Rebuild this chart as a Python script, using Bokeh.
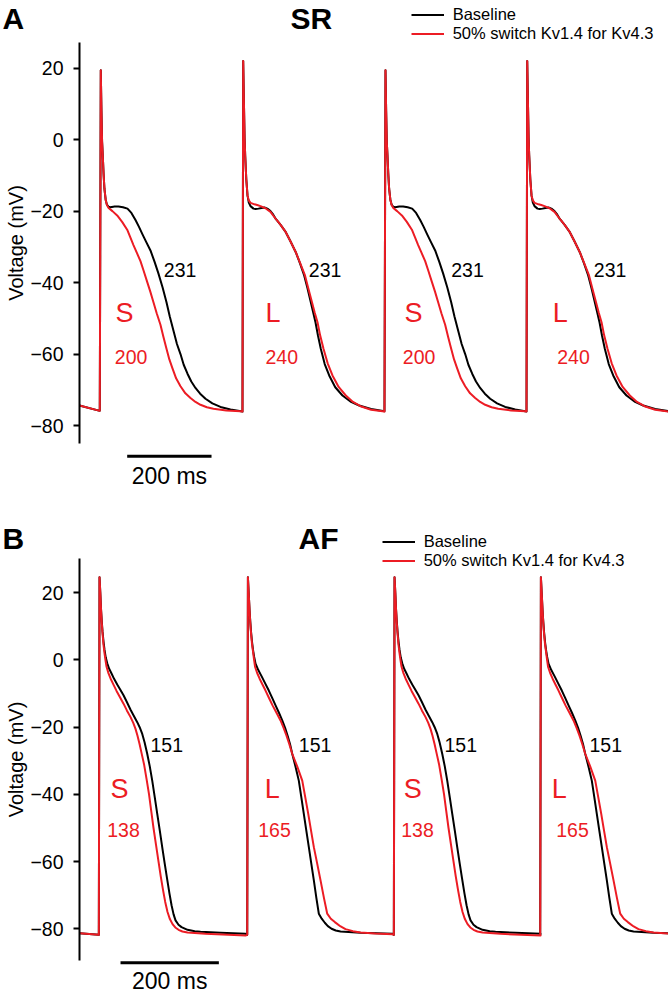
from bokeh.plotting import figure
from bokeh.models import Range1d, FixedTicker, Legend, LegendItem
from bokeh.layouts import column
from bokeh.embed import file_html
from bokeh.resources import INLINE
from bokeh.core.properties import value

FONT = "Liberation Sans"
BLACK = "#000000"
RED = "#ec1c24"

# ---------------- data ----------------
y_ticks = [-80, -60, -40, -20, 0, 20]
y_tick_labels = ["\u221280", "\u221260", "\u221240", "\u221220", "0", "20"]
legend_labels = ["Baseline", "50% switch Kv1.4 for Kv4.3"]
scale_bar_ms = 200

# Panel A (SR): beat onsets (ms) and beat types
sr_onsets = [48.1, 386.5, 723.2, 1060.0]
sr_kinds = ["S", "L", "S", "L"]
sr_pre_t = [0.0]
sr_pre_v = [-74.4]
# S beat, baseline (time after onset in ms, voltage in mV)
sr_S_base_t = [0, 2.4, 4.0, 5.5, 7.1, 9.0, 11.1, 14, 17, 21, 25.4, 35, 44.3, 55, 65.7, 75, 84.7, 93, 101.3, 110, 120.2, 130, 139.2, 149, 158.2, 166, 174.8, 183, 191.4, 199, 208.0, 217, 226.9, 238, 250.7, 267, 286.2, 310]
sr_S_base_v = [-75.9, 19.4, 8, -0.5, -4.4, -9.5, -13.8, -16.8, -18.2, -18.8, -18.9, -18.7, -18.7, -18.9, -19.3, -20.5, -22.5, -24.4, -26.5, -28.6, -31.0, -34.2, -37.5, -41.4, -45.5, -49.5, -53.5, -57.2, -60.0, -63.0, -65.5, -67.7, -69.5, -71.1, -72.5, -73.8, -74.8, -75.5]
# S beat, 50% switch
sr_S_sw_t = [0, 2.4, 4.0, 5.5, 7.1, 9.0, 11.1, 14, 17, 21, 30, 41.3, 53, 65, 72, 79.9, 88, 96.5, 104, 112.4, 120, 127.3, 135, 143.9, 151, 158.2, 165, 172.4, 181, 191.4, 203, 215.1, 227, 238.8, 254, 269.6, 300, 333.6]
sr_S_sw_v = [-75.9, 19.4, 8, -0.5, -4.4, -9.5, -13.8, -16.9, -18.3, -19.1, -20.0, -21.2, -23.0, -25.2, -27.2, -29.5, -31.7, -34.0, -36.7, -39.8, -42.6, -45.5, -48.6, -51.8, -55.2, -58.5, -61.5, -64.0, -66.8, -69.0, -71.0, -72.3, -73.4, -74.2, -74.9, -75.3, -75.8, -76.0]
# L beat, baseline
sr_L_base_t = [0, 1.7, 3.5, 5.0, 6.4, 9.0, 11.9, 15, 19, 26.1, 31, 37.9, 45, 52.2, 59, 66.4, 73, 79, 90, 102.7, 114, 126.4, 136, 146.3, 154, 162, 168, 173.1, 179, 185.7, 195, 205.6, 220, 237.1, 256, 276.7, 305, 336.7]
sr_L_base_v = [-76.1, 22.0, 10, 0.5, -4.4, -11.0, -15.6, -17.6, -18.6, -19.3, -19.4, -19.3, -19.1, -19.0, -19.3, -20.0, -21.0, -22.2, -23.8, -25.9, -28.5, -31.5, -34.5, -38.0, -41.5, -45.5, -48.5, -51.1, -54.8, -58.5, -62.8, -66.0, -69.3, -71.6, -73.3, -74.4, -75.4, -76.0]
# L beat, 50% switch
sr_L_sw_t = [0, 1.7, 3.5, 5.0, 6.4, 9.0, 11.9, 15, 19, 28.5, 35, 42.7, 54.5, 66.4, 79, 90, 102.7, 114, 126.4, 137, 148.2, 156, 164.8, 171, 177.9, 184, 192.1, 202, 213.4, 228, 245.0, 262, 279.8, 305, 336.7]
sr_L_sw_v = [-76.1, 22.0, 10, 0.5, -4.4, -11.0, -15.6, -17.0, -17.7, -18.1, -18.3, -18.6, -19.2, -20.2, -22.2, -23.8, -25.9, -28.5, -31.5, -34.6, -38.0, -41.6, -45.5, -48.3, -51.1, -54.7, -58.5, -62.6, -66.0, -69.2, -71.6, -73.4, -74.6, -75.6, -76.1]
sr_apd_base = ["231", "231", "231", "231"]
sr_apd_switch = ["200", "240", "200", "240"]

# Panel B (AF)
af_onsets = [39.3, 341.1, 639.3, 937.0]
af_kinds = ["S", "L", "S", "L"]
af_pre_t = [0.0]
af_pre_v = [-81.3]
af_S_base_t = [0, 1.4, 3, 4.5, 6, 7.5, 9.5, 11.6, 14, 17.1, 21, 25.8, 31, 37.4, 44, 50.2, 57, 64.5, 71, 78.1, 83, 88.3, 93, 98.4, 103.5, 108.6, 113.7, 118.8, 124, 128.9, 134, 138.7, 143.5, 147.9, 152, 156.0, 162, 168.2, 180.4, 195, 206.8, 247.5, 298.4]
af_S_base_v = [-81.8, 24.6, 20, 15, 11.5, 8.5, 5.5, 3.0, 0.8, -1.0, -2.6, -4.0, -5.6, -7.3, -8.9, -10.5, -12.5, -14.8, -16.6, -18.5, -20.0, -22.0, -24.5, -27.9, -31.6, -35.9, -40.8, -45.8, -50.8, -55.7, -60.6, -65.0, -69.4, -73.0, -75.7, -77.5, -78.8, -79.5, -80.3, -80.7, -80.9, -81.2, -81.5]
af_S_sw_t = [0, 1.4, 3, 4.5, 6, 7.5, 9.5, 11.6, 13.5, 15.7, 19.5, 23.8, 30, 36.0, 43, 50.2, 57, 64.5, 70, 74.6, 78.5, 82.8, 87, 91.9, 97, 102.1, 106.6, 111.2, 116.3, 121.4, 126, 130.6, 135, 139.7, 144.5, 149.9, 155.5, 162.1, 170, 180.4, 217.0, 298.4]
af_S_sw_v = [-81.8, 24.6, 20, 15, 11, 8, 4.5, 2.0, 0.0, -2.0, -3.9, -5.5, -7.4, -9.2, -11.1, -13.0, -15.0, -17.0, -18.7, -20.5, -22.5, -25.0, -27.8, -31.0, -35.4, -40.0, -45.0, -50.0, -55.0, -60.0, -64.5, -68.5, -72.0, -75.0, -77.1, -78.6, -79.6, -80.3, -80.8, -81.1, -81.5, -82.0]
af_L_base_t = [0, 1.4, 3, 4.7, 6.2, 7.7, 9.7, 11.8, 14, 16.9, 22.5, 29.1, 36, 43.9, 50.5, 57.6, 64.5, 71.2, 77, 82.0, 87, 91.5, 98, 104.9, 110, 115.1, 120.2, 125.3, 130.4, 135.5, 140.6, 145.6, 151.5, 157.8, 164, 171.5, 180, 189.8, 230.4, 295.5]
af_L_base_v = [-81.8, 24.6, 20, 15, 11.5, 8.5, 5.5, 3.0, 1.0, -1.1, -3.0, -4.8, -6.8, -9.1, -11.2, -13.5, -15.7, -18.0, -20.2, -22.5, -25.0, -27.9, -31.6, -35.9, -40.8, -45.8, -50.8, -55.7, -60.7, -65.6, -70.8, -75.5, -77.0, -78.2, -79.2, -80.0, -80.5, -80.8, -81.2, -81.5]
af_L_sw_t = [0, 1.4, 3, 4.7, 6.2, 7.7, 9.7, 11.8, 13.8, 15.9, 20, 25.0, 31, 37.2, 44.3, 51.5, 59.5, 67.7, 74, 79.9, 85.5, 91.5, 102, 111.9, 118, 124.1, 129.8, 135.5, 142.3, 149.1, 156, 162.7, 170, 178.2, 190, 199.9, 215, 230.4, 260, 295.5]
af_L_sw_v = [-81.8, 24.6, 20, 15, 11, 8, 4.8, 2.5, 0.2, -2.0, -3.8, -5.5, -7.3, -9.1, -11.3, -13.5, -15.7, -18.0, -20.2, -22.5, -25.0, -27.9, -31.8, -35.9, -40.8, -45.8, -50.8, -55.7, -60.6, -65.6, -70.8, -75.5, -77.0, -78.0, -79.3, -80.1, -80.7, -81.1, -81.4, -81.6]
af_apd_base = ["151", "151", "151", "151"]
af_apd_switch = ["138", "165", "138", "165"]

# ---------------- label positions (ms, mV) ----------------
sr_pos = dict(base_x=[199.9, 543.8, 881.4, 1219.6], base_y=-36.6,
              tag_x=[85.4, 441.1, 770.7, 1122.4], tag_y=-48.4,
              sw_x=[83.7, 441.1, 766.7, 1132.8], sw_y=-60.7,
              bar_x0=113.1, bar_y=-88.6, bar_txt_y=-94.0,
              title_x=500.4, title_y=33.9, panel_x=-182.6)
af_pos = dict(base_x=[144.4, 446.0, 742.3, 1037.2], base_y=-25.4,
              tag_x=[63.0, 376.9, 659.6, 960.5], tag_y=-38.3,
              sw_x=[56.3, 363.4, 654.3, 969.5], sw_y=-50.7,
              bar_x0=83.4, bar_y=-90.1, bar_txt_y=-95.4,
              title_x=445.4, title_y=36.2, panel_x=-156.6)


def build(pre_t, pre_v, onsets, kinds, templates):
    t, v = list(pre_t), list(pre_v)
    for on, k in zip(onsets, kinds):
        tt, vv = templates[k]
        t += [on + x for x in tt]
        v += list(vv)
    return t, v


def panel(name, title, width, height, xr, yr, bounds, onsets, kinds, pre,
          base_tpl, sw_tpl, apd_base, apd_sw, pos, legend_loc):
    p = figure(width=width, height=height, x_range=Range1d(*xr), y_range=Range1d(*yr),
               x_axis_location=None, toolbar_location=None, output_backend="svg",
               min_border_left=0, min_border_right=0, min_border_top=0, min_border_bottom=0,
               outline_line_color=None, background_fill_color="white")
    p.grid.visible = False
    ax = p.yaxis[0]
    ax.fixed_location = 0
    ax.ticker = FixedTicker(ticks=y_ticks)
    ax.major_label_overrides = {t: l for t, l in zip(y_ticks, y_tick_labels)}
    ax.bounds = bounds
    ax.axis_line_width = 2
    ax.axis_line_color = BLACK
    ax.major_tick_line_width = 2
    ax.major_tick_line_color = BLACK
    ax.major_tick_out = 6
    ax.major_tick_in = 0
    ax.minor_tick_out = 0
    ax.minor_tick_in = 0
    ax.major_label_standoff = 10
    ax.major_label_text_font = FONT
    ax.major_label_text_font_size = "19.5px"
    ax.major_label_text_color = BLACK
    ax.axis_label = "Voltage (mV)"
    ax.axis_label_text_font = FONT
    ax.axis_label_text_font_size = "20px"
    ax.axis_label_text_font_style = "normal"
    ax.axis_label_text_color = BLACK
    ax.axis_label_standoff = 0

    bt, bv = build(pre[0], pre[1], onsets, kinds, base_tpl)
    st, sv = build(pre[0], pre[1], onsets, kinds, sw_tpl)
    r_b = p.line(bt, bv, line_color=BLACK, line_width=2, line_join="round")
    r_s = p.line(st, sv, line_color=RED, line_width=2, line_join="round")

    common = dict(text_font=value(FONT), text_align="left", text_baseline="middle")
    p.text(x=pos["base_x"], y=[pos["base_y"]] * 4, text=apd_base, text_color=BLACK,
           text_font_size="19.5px", **common)
    p.text(x=pos["tag_x"], y=[pos["tag_y"]] * 4, text=kinds, text_color=RED,
           text_font_size="27px", **common)
    p.text(x=pos["sw_x"], y=[pos["sw_y"]] * 4, text=apd_sw, text_color=RED,
           text_font_size="19.5px", **common)

    x0 = pos["bar_x0"]
    p.line([x0, x0 + scale_bar_ms], [pos["bar_y"]] * 2, line_color=BLACK, line_width=3)
    p.text(x=[x0 + scale_bar_ms / 2], y=[pos["bar_txt_y"]], text=[f"{scale_bar_ms} ms"],
           text_color=BLACK, text_font=value(FONT), text_font_size="23px",
           text_align="center", text_baseline="middle")

    p.text(x=[pos["title_x"], pos["panel_x"]], y=[pos["title_y"]] * 2, text=[title, name],
           text_color=BLACK, text_font=value(FONT), text_font_size="30px",
           text_font_style="bold", text_align="left", text_baseline="middle")

    leg = Legend(items=[LegendItem(label=legend_labels[0], renderers=[r_b]),
                        LegendItem(label=legend_labels[1], renderers=[r_s])],
                 location=legend_loc, glyph_width=33, glyph_height=19, label_height=19,
                 label_standoff=9, spacing=0, padding=0, margin=0,
                 border_line_color=None, background_fill_alpha=0,
                 label_text_font=FONT, label_text_font_size="16.5px",
                 label_text_color=BLACK)
    p.add_layout(leg)
    return p


pA = panel("A", "SR", 668, 505, (-187.3, 1396.7), (-102.39, 38.95), (-85.04, 27.19),
           sr_onsets, sr_kinds, (sr_pre_t, sr_pre_v),
           {"S": (sr_S_base_t, sr_S_base_v), "L": (sr_L_base_t, sr_L_base_v)},
           {"S": (sr_S_sw_t, sr_S_sw_v), "L": (sr_L_sw_t, sr_L_sw_v)},
           sr_apd_base, sr_apd_switch, sr_pos, (410.7, 462.5))
pB = panel("B", "AF", 668, 490, (-160.7, 1197.9), (-99.85, 45.98), (-89.4, 30.1),
           af_onsets, af_kinds, (af_pre_t, af_pre_v),
           {"S": (af_S_base_t, af_S_base_v), "L": (af_L_base_t, af_L_base_v)},
           {"S": (af_S_sw_t, af_S_sw_v), "L": (af_L_sw_t, af_L_sw_v)},
           af_apd_base, af_apd_switch, af_pos, (381.7, 425.5))

layout = column(pA, pB)
open("out.html", "w").write(file_html(layout, INLINE))
